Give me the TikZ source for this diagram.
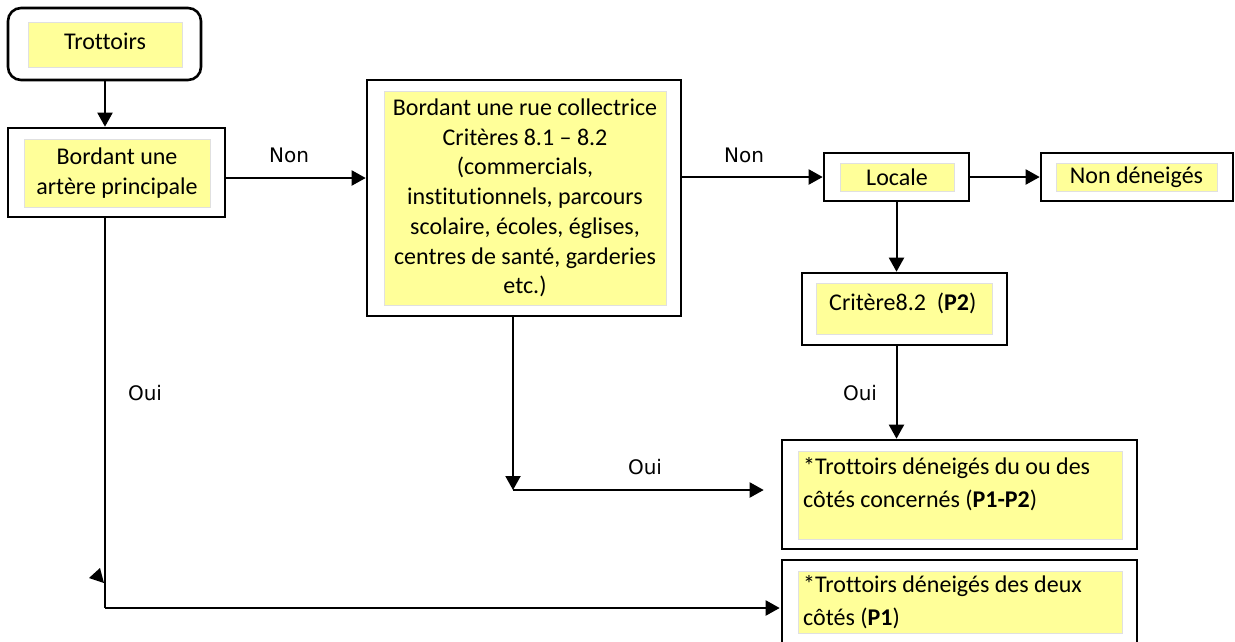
\documentclass[tikz,border=0pt]{standalone}
\usepackage{fontspec}
\setmainfont{Carlito}[Ligatures=NoCommon]
\newfontfamily\labfont{DejaVu Sans}
\usetikzlibrary{arrows.meta,calc}
\definecolor{boxyellow}{RGB}{255,255,153}
\begin{document}
\begin{tikzpicture}[x=1pt,y=-1pt,
  outer/.style={draw,line width=2.6pt,inner sep=0pt},
  inner/.style={fill=boxyellow,draw=black!12,line width=0.6pt,inner sep=0pt,
    font=\fontsize{24}{29.7}\selectfont,align=center},
  btext/.style={inner sep=0pt,font=\fontsize{24}{33}\selectfont,align=left},
  conn/.style={line width=2pt,-{Triangle[length=14pt,width=15pt]}},
  plainline/.style={line width=2pt},
  lab/.style={inner sep=0pt,font=\labfont\fontsize{20}{24}\selectfont}]
\useasboundingbox (0,0) rectangle (1235,641);
\fill[white] (0,0) rectangle (1235,641);

% Trottoirs
\node[outer,rounded corners=13pt,minimum width=193pt,minimum height=72pt] (trot) at (104.5,44) {};
\node[inner,minimum width=154pt,minimum height=45pt] (trotin) at (105,44.5) {\raisebox{7pt}{Trottoirs}};

% Bordant une artere principale
\node[outer,minimum width=217pt,minimum height=89pt] (bord) at (116.5,172.5) {};
\node[inner,minimum width=186pt,minimum height=68pt] (bordin) at (117,173) {Bordant une\\art\`ere principale};

% Collectrice
\node[outer,minimum width=314pt,minimum height=236pt] (coll) at (524,198) {};
\node[inner,minimum width=282pt,minimum height=214pt] (collin) at (525,198) {Bordant une rue collectrice\\Crit\`eres 8.1 -- 8.2\\(commercials,\\institutionnels, parcours\\scolaire, \'ecoles, \'eglises,\\centres de sant\'e, garderies\\etc.)};

% Locale
\node[outer,minimum width=145pt,minimum height=48pt] (loc) at (896.5,177) {};
\node[inner,minimum width=114pt,minimum height=28pt] (locin) at (897,177) {Locale};

% Non deneiges
\node[outer,minimum width=192pt,minimum height=48pt] (nd) at (1137,177) {};
\node[inner,minimum width=161pt,minimum height=28pt] (ndin) at (1136.5,177) {\raisebox{-2pt}{Non d\'eneig\'es}};

% Critere 8.2
\node[outer,minimum width=205pt,minimum height=72pt] (crit) at (904.5,309) {};
\node[inner,minimum width=176pt,minimum height=51pt] (critin) at (904,308.5) {};
\node[btext,anchor=base west] (crittx) at (829,310) {Crit\`ere8.2\ \ (\textbf{P2})};

% P1-P2
\node[outer,minimum width=355pt,minimum height=109pt] (p12) at (959.5,494.5) {};
\node[inner,minimum width=324pt,minimum height=88pt] (p12in) at (960,495) {};
\node[btext,anchor=base west] (p12tx) at (803,507) {*Trottoirs d\'eneig\'es du ou des\\c\^ot\'es concern\'es (\textbf{P1-P2})};

% P1
\node[outer,minimum width=355pt,minimum height=100pt] (p1) at (959.5,610) {};
\node[inner,minimum width=324pt,minimum height=62pt] (p1in) at (960,602) {};
\node[btext,anchor=base west] (p1tx) at (803,625) {*Trottoirs d\'eneig\'es des deux\\c\^ot\'es (\textbf{P1})};

% connectors
\draw[conn] (trot.south -| 105,0) -- (bord.north -| 105,0);
\draw[conn] ([yshift=-5.5pt]bord.east) -- ([yshift=-5.5pt]bord.east -| coll.west);
\node[lab] (lnon1) at (289,155) {Non};
\draw[conn] (coll.east |- loc.west) -- (loc.west);
\node[lab] (lnon2) at (744,155) {Non};
\draw[conn] (loc.east) -- (nd.west);
\draw[conn] (loc.south) -- (loc.south |- crit.north);
\draw[conn] (loc.south |- crit.south) -- (loc.south |- p12.north);
\node[lab] (loui1) at (860,393) {Oui};

\coordinate (c1) at (513,490);
\draw[conn] (coll.south -| c1) -- (c1);
\draw[conn,shorten >=17pt] (c1) -- (c1 -| p12.west);
\node[lab] (loui2) at (645,467) {Oui};

\coordinate (c2) at (105,608);
\draw[plainline] (bord.south -| c2) -- (c2);
\draw[conn,shorten >=1pt] (c2) -- (c2 -| p1.west);
\fill (89,578) -- (100,568) -- (104,583) -- cycle;
\node[lab] (loui3) at (145,393) {Oui};
\end{tikzpicture}
\end{document}
